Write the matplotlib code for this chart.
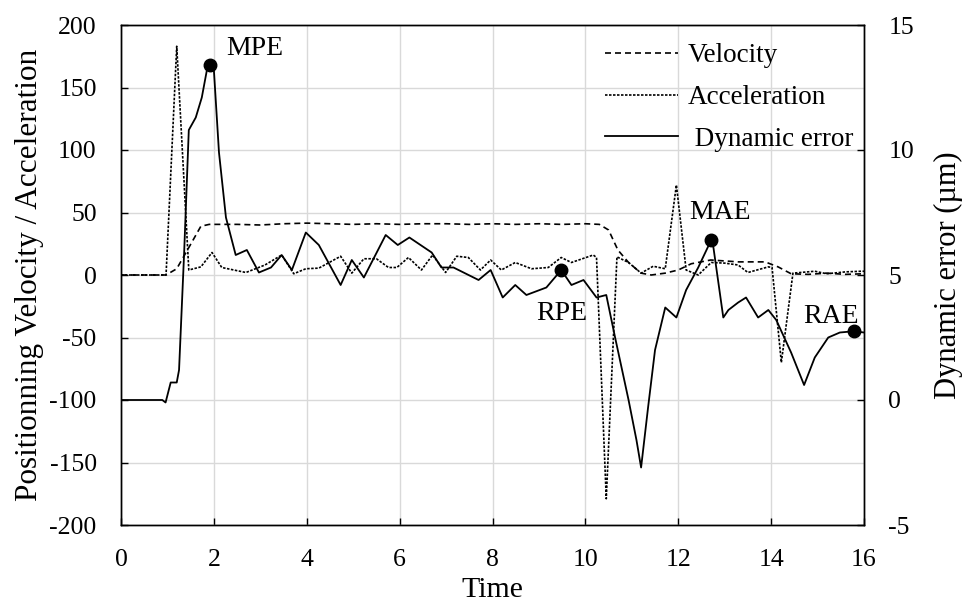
import numpy as np
import matplotlib
matplotlib.use('Agg')
import matplotlib.pyplot as plt

plt.rcParams['font.family'] = ['Liberation Serif', 'DejaVu Serif']
plt.rcParams['axes.unicode_minus'] = False

# velocity (left axis)
t_vel = [0, 0.97, 1.2, 1.4, 1.72, 1.9, 2.5, 3.0, 3.5, 4.0, 4.5, 5.0, 5.5, 6.0, 6.5, 7.0,
         7.5, 8.0, 8.5, 9.0, 9.5, 10.0, 10.3, 10.5, 10.7, 10.93, 11.2, 11.42, 11.72, 12.0,
         12.28, 12.7, 13.3, 13.87, 14.15, 14.43, 14.8, 15.2, 15.6, 16.0]
vel = [0, 0, 5, 18, 39, 40.5, 40.5, 40, 41, 41.5, 41, 40.5, 41, 40.5, 41, 41,
       40.5, 41, 40.5, 41, 40.5, 41, 40.5, 36, 20, 10, 1.5, 0, 1.5, 4,
       9, 12, 10.5, 10.5, 6.5, 1, 0.5, 1.5, 0.5, 1]

# acceleration (left axis)
t_acc = [0, 0.97, 1.2, 1.46, 1.72, 1.96, 2.17, 2.69, 3.1, 3.46, 3.72, 3.98, 4.26, 4.73,
         4.97, 5.23, 5.5, 5.76, 5.94, 6.19, 6.47, 6.71, 6.99, 7.23, 7.48, 7.74, 7.96,
         8.19, 8.49, 8.84, 9.2, 9.48, 9.7, 10.17, 10.24, 10.45, 10.68, 10.93, 11.2,
         11.46, 11.72, 11.96, 12.17, 12.43, 12.71, 13.0, 13.29, 13.5, 13.94, 14.02,
         14.22, 14.47, 14.94, 15.2, 15.6, 15.94, 16.0]
acc = [0, 0, 183, 4, 6.5, 18, 6, 2, 8, 16, 1, 5, 5.5, 15,
       1.5, 13, 13, 6, 6, 14, 4, 16, 2, 15, 14, 4, 12,
       4, 10, 5, 6, 14, 10, 16, 14, -179, 14.5, 10, 1.5,
       7, 5, 72, 4, 0, 10, 9.5, 8, 2, 6.5, 6,
       -70, 1.5, 3, 1, 2.5, 3, 3]

# dynamic error (right axis, um)
t_err = [0, 0.89, 0.96, 1.07, 1.2, 1.25, 1.36, 1.46, 1.61, 1.74, 1.85, 1.91, 2.0, 2.11,
         2.26, 2.47, 2.71, 2.97, 3.23, 3.46, 3.68, 3.98, 4.26, 4.73, 4.97, 5.23, 5.7,
         5.96, 6.21, 6.69, 6.9, 7.16, 7.7, 7.96, 8.22, 8.49, 8.73, 9.16, 9.48, 9.7, 9.96,
         10.24, 10.45, 10.64, 10.93, 11.1, 11.2, 11.35, 11.5, 11.72, 11.96, 12.17, 12.43,
         12.71, 12.75, 12.97, 13.08, 13.29, 13.46, 13.72, 13.94, 14.11, 14.43, 14.71,
         14.94, 15.23, 15.48, 15.78, 16.0]
err = [0, 0, -0.1, 0.7, 0.7, 1.2, 5.9, 10.8, 11.3, 12.1, 13.2, 13.4, 13.2, 9.9,
       7.3, 5.8, 6.0, 5.1, 5.3, 5.8, 5.2, 6.7, 6.2, 4.6, 5.6, 4.9, 6.6,
       6.2, 6.5, 5.9, 5.3, 5.3, 4.8, 5.2, 4.1, 4.6, 4.2, 4.5, 5.2, 4.6, 4.8,
       4.1, 4.2, 2.5, 0, -1.6, -2.7, -0.3, 2.0, 3.7, 3.3, 4.4, 5.3,
       6.4, 6.2, 3.3, 3.6, 3.9, 4.1, 3.3, 3.6, 3.2, 1.9, 0.6,
       1.7, 2.5, 2.7, 2.75, 2.7]

# marked points on the error curve
pt_names = ['MPE', 'RPE', 'MAE', 'RAE']
pt_t = [1.91, 9.48, 12.71, 15.78]
pt_err = [13.4, 5.2, 6.4, 2.75]
# label positions (left axis units)
lab_t = [2.88, 9.5, 12.9, 15.3]
lab_y = [181, -31, 50, -33]

fig = plt.figure(figsize=(9.69, 6.03), dpi=100)
ax = fig.add_axes([121 / 969, 1 - 525 / 603, 743 / 969, 500 / 603])
ax2 = ax.twinx()

ax.plot(t_vel, vel, color='black', lw=1.2, ls=(0, (3.6, 2.4)), label='Velocity')
ax.plot(t_acc, acc, color='black', lw=1.2, ls=(0, (1.5, 0.9)), label='Acceleration')
ax2.plot(t_err, err, color='black', lw=1.3, label=' Dynamic error')
ax2.plot(pt_t, pt_err, 'o', color='black', ms=9)

for name, x, y in zip(pt_names, lab_t, lab_y):
    ax.text(x, y, name, fontsize=20, ha='center', va='center')

ax.set_xlim(0, 16)
ax.set_ylim(-200, 200)
ax2.set_ylim(-5, 15)
ax.set_xticks(np.arange(0, 17, 2))
ax.set_yticks(np.arange(-200, 201, 50))
ax2.set_yticks(np.arange(-5, 16, 5))
ax.grid(True, color='#d9d9d9', lw=1.0)
ax.set_axisbelow(True)

for a in (ax, ax2):
    a.tick_params(direction='in', length=5, width=1, labelsize=18.5, pad=17.5)
    for s in a.spines.values():
        s.set_linewidth(1.0)

ax.set_xlabel('Time', fontsize=21.5, labelpad=4)
ax.set_ylabel('Positionning Velocity / Acceleration', fontsize=22.5, labelpad=4)
ax2.set_ylabel('Dynamic error (µm)', fontsize=22, labelpad=14)

h1, l1 = ax.get_legend_handles_labels()
h2, l2 = ax2.get_legend_handles_labels()
ax.legend(h1 + h2[:1], l1 + l2[:1], loc='upper right', frameon=False, fontsize=19.5,
          handlelength=2.7, handletextpad=0.37, labelspacing=0.62,
          bbox_to_anchor=(1.0, 0.985), borderaxespad=0.0)

fig.savefig('out.png', dpi=100)
